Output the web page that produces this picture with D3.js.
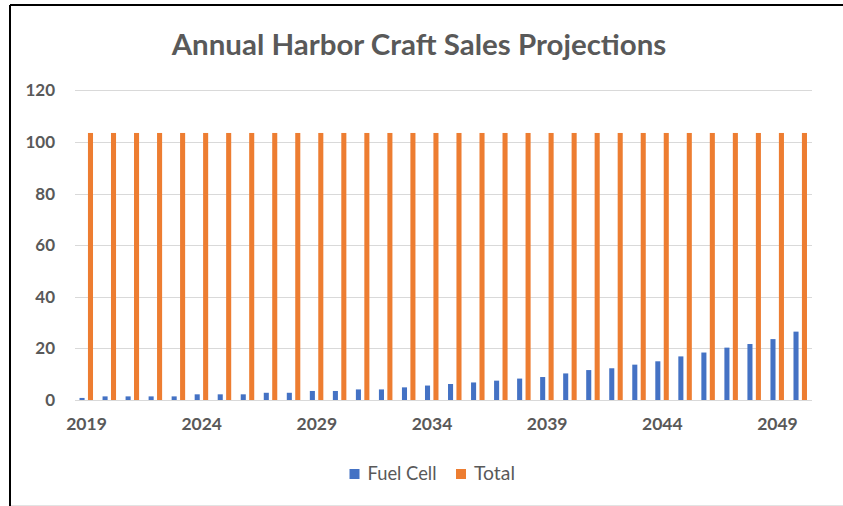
<!DOCTYPE html>
<html>
<head>
<meta charset="utf-8">
<script src="https://cdn.jsdelivr.net/npm/d3@7"></script>
<style>
  html, body { margin: 0; padding: 0; background: #fff; }
  svg { display: block; }
  text { font-family: Lato, "Open Sans", sans-serif; }
</style>
</head>
<body>
<svg id="chart" width="843" height="506"></svg>
<script>
// Annual harbor craft sales, 2019–2050
const years = d3.range(2019, 2051);
const fuelCell = [0.8, 1.4, 1.4, 1.4, 1.4, 2.2, 2.2, 2.2, 2.8, 2.8, 3.5, 3.5, 4.1, 4.1, 4.9, 5.6,
                  6.2, 6.8, 7.5, 8.3, 8.9, 10.3, 11.6, 12.3, 13.7, 15.0, 16.9, 18.4, 20.3, 21.7, 23.6, 26.5];
const total = years.map(() => 103.5);
const seriesNames = ["Fuel Cell", "Total"];
const seriesColors = ["#4472C4", "#ED7D31"];
const yTicks = [0, 20, 40, 60, 80, 100, 120];
const xTickYears = [2019, 2024, 2029, 2034, 2039, 2044, 2049];
const titleText = "Annual Harbor Craft Sales Projections";

const rows = years.map((y, i) => ({ year: y, values: [fuelCell[i], total[i]] }));

const svg = d3.select("#chart");
const W = 843, H = 506;
const plot = { left: 75, right: 812, top: 90.4, bottom: 400 };
const textColor = "#595959";

// Fit a text element's font size to a target width
function fitWidth(sel, base, target) {
  sel.attr("font-size", base);
  const w = sel.node().getComputedTextLength();
  sel.attr("font-size", base * target / w);
}

// Outer frame: dark top/left edge, light bottom edge
svg.append("line").attr("x1", 10).attr("x2", W).attr("y1", 5).attr("y2", 5)
  .attr("stroke", "#000").attr("stroke-width", 2);
svg.append("line").attr("x1", 10).attr("x2", 10).attr("y1", 5).attr("y2", 506)
  .attr("stroke", "#000").attr("stroke-width", 2);
svg.append("line").attr("x1", 11).attr("x2", W).attr("y1", 505.5).attr("y2", 505.5)
  .attr("stroke", "#e3e3e3").attr("stroke-width", 1);

const x0 = d3.scaleBand().domain(years).range([plot.left, plot.right]).padding(0);
const cw = x0.bandwidth();
const x1 = d3.scaleBand().domain(seriesNames)
  .range([cw / 2 - 7, cw / 2 + 6.5]).paddingInner(0.4);
const y = d3.scaleLinear().domain([0, 120]).range([plot.bottom, plot.top]);

// Gridlines
svg.append("g")
  .selectAll("line").data(yTicks).join("line")
  .attr("x1", plot.left).attr("x2", plot.right)
  .attr("y1", d => Math.round(y(d)) + 0.5).attr("y2", d => Math.round(y(d)) + 0.5)
  .attr("stroke", "#d9d9d9").attr("stroke-width", 1.2);

// Y axis labels
const yAxis = svg.append("g")
  .attr("transform", `translate(${plot.left - 20},0)`)
  .call(d3.axisLeft(y).tickValues(yTicks).tickSize(0).tickPadding(0));
yAxis.select(".domain").remove();
yAxis.selectAll("text")
  .attr("fill", textColor).attr("font-size", 17).attr("font-weight", 700)
  .style("font-family", "Lato, sans-serif");

// Bars
const groups = svg.append("g").selectAll("g").data(rows).join("g")
  .attr("transform", d => `translate(${x0(d.year)},0)`);
groups.selectAll("rect").data(d => d.values.map((v, i) => ({ key: seriesNames[i], v, i })))
  .join("rect")
  .attr("x", d => x1(d.key))
  .attr("width", x1.bandwidth())
  .attr("y", d => y(d.v))
  .attr("height", d => y(0) - y(d.v))
  .attr("fill", d => seriesColors[d.i]);

// X axis labels
const xAxis = svg.append("g")
  .attr("transform", `translate(0,${plot.bottom})`)
  .call(d3.axisBottom(x0).tickValues(xTickYears).tickSize(0).tickPadding(18));
xAxis.select(".domain").remove();
xAxis.selectAll("text")
  .attr("fill", textColor).attr("font-size", 17.5).attr("font-weight", 700)
  .style("font-family", "Lato, sans-serif");

// Title, sized to its span
const title = svg.append("text")
  .attr("x", 419).attr("y", 55)
  .attr("text-anchor", "middle")
  .attr("fill", textColor).attr("font-weight", 700)
  .text(titleText);
fitWidth(title, 26, 495);

// Legend
const legendX = [349.5, 456];
const legendW = [69, 41];
const legend = svg.append("g");
seriesNames.forEach((name, i) => {
  legend.append("rect")
    .attr("x", legendX[i]).attr("y", 469)
    .attr("width", 10).attr("height", 10)
    .attr("fill", seriesColors[i]);
  const t = legend.append("text")
    .attr("x", legendX[i] + 18).attr("y", 479.5)
    .attr("fill", textColor)
    .text(name);
  fitWidth(t, 16, legendW[i]);
});
</script>
</body>
</html>
